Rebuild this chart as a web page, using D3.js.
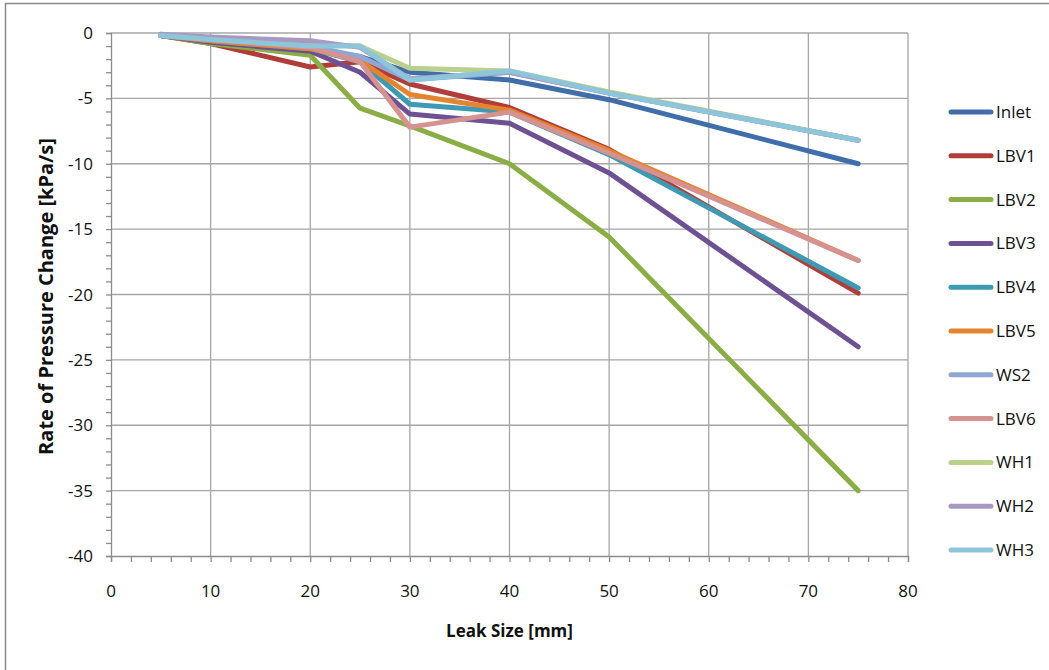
<!DOCTYPE html>
<html>
<head>
<meta charset="utf-8">
<script src="https://cdn.jsdelivr.net/npm/d3@7"></script>
<style>
  html, body { margin: 0; padding: 0; background: #fff; }
  svg { display: block; }
  text { font-family: "Open Sans", "Noto Sans", sans-serif; fill: #111; }
</style>
</head>
<body>
<svg id="chart" width="1049" height="670"></svg>
<script>
// Leak sizes (mm) at which the rate of pressure change was evaluated
const leakSizes = [5, 10, 20, 25, 30, 40, 50, 75];

// Rate of pressure change (kPa/s) for each monitoring location
const inlet = [-0.2, -0.6, -1.2, -1.8, -3.0, -3.6, -5.1, -10.0];
const lbv1  = [-0.2, -0.8, -2.6, -2.2, -3.9, -5.7, -8.9, -19.9];
const lbv2  = [-0.2, -0.8, -1.7, -5.75, -7.1, -10.0, -15.6, -35.0];
const lbv3  = [-0.2, -0.7, -1.4, -3.0, -6.2, -6.9, -10.7, -24.0];
const lbv4  = [-0.2, -0.6, -1.2, -2.2, -5.45, -6.05, -9.3, -19.5];
const lbv5  = [-0.2, -0.6, -1.2, -2.1, -4.7, -5.9, -9.0, -17.4];
const ws2   = [-0.2, -0.5, -1.0, -1.8, -3.6, -3.0, -4.6, -8.2];
const lbv6  = [-0.2, -0.5, -1.1, -2.2, -7.2, -6.05, -9.2, -17.4];
const wh1   = [-0.1, -0.4, -0.9, -1.0, -2.7, -2.9, -4.5, -8.2];
const wh2   = [-0.1, -0.3, -0.6, -1.1, -3.5, -3.0, -4.6, -8.2];
const wh3   = [-0.2, -0.5, -1.0, -1.0, -3.6, -2.9, -4.6, -8.2];

const seriesNames  = ["Inlet", "LBV1", "LBV2", "LBV3", "LBV4", "LBV5", "WS2", "LBV6", "WH1", "WH2", "WH3"];
const seriesValues = [inlet, lbv1, lbv2, lbv3, lbv4, lbv5, ws2, lbv6, wh1, wh2, wh3];
const seriesColors = ["#3F6EAB", "#B03D3A", "#8AAE45", "#6E5193", "#3D9AB2", "#E5832F",
                      "#8FA8D2", "#D69290", "#B9D08E", "#A899C3", "#8DC6DA"];

const xTicks = [0, 10, 20, 30, 40, 50, 60, 70, 80];
const yTicks = [0, -5, -10, -15, -20, -25, -30, -35, -40];

const svg = d3.select("#chart");
const plot = { left: 111, right: 908, top: 33, bottom: 556 };

const x = d3.scaleLinear().domain([0, 80]).range([plot.left, plot.right]);
const y = d3.scaleLinear().domain([-40, 0]).range([plot.bottom, plot.top]);

// outer frame
svg.append("rect")
  .attr("x", 5.5).attr("y", 3.5).attr("width", 1100).attr("height", 700)
  .attr("fill", "none").attr("stroke", "#8a8a8a").attr("stroke-width", 1.5);

// gridlines
const grid = svg.append("g").attr("stroke", "#a6a6a6").attr("stroke-width", 1.3);
grid.selectAll(".gx").data(xTicks.slice(1)).join("line")
  .attr("x1", d => x(d)).attr("x2", d => x(d))
  .attr("y1", plot.top).attr("y2", plot.bottom);
grid.selectAll(".gy").data(yTicks.slice(0, -1)).join("line")
  .attr("x1", plot.left).attr("x2", plot.right)
  .attr("y1", d => y(d)).attr("y2", d => y(d));

// axes with minor ticks
const xAxis = svg.append("g").attr("transform", `translate(0,${plot.bottom})`)
  .call(d3.axisBottom(x).tickValues(d3.range(0, 81, 2)).tickSize(6).tickFormat(""));
const yAxis = svg.append("g").attr("transform", `translate(${plot.left},0)`)
  .call(d3.axisLeft(y).tickValues(d3.range(-40, 1, 1)).tickSize(5).tickFormat(""));
[xAxis, yAxis].forEach(a => {
  a.selectAll("path, line").attr("stroke", "#8c8c8c").attr("stroke-width", 1.3);
});

// tick labels
svg.append("g").selectAll("text").data(xTicks).join("text")
  .attr("x", d => x(d)).attr("y", 597)
  .attr("text-anchor", "middle").attr("font-size", 17)
  .text(d => d);
svg.append("g").selectAll("text").data(yTicks).join("text")
  .attr("x", 93).attr("y", d => y(d) + 6)
  .attr("text-anchor", "end").attr("font-size", 17)
  .text(d => d);

// axis titles
svg.append("text")
  .attr("x", x(40)).attr("y", 637)
  .attr("text-anchor", "middle").attr("font-size", 17).attr("font-weight", "bold")
  .text("Leak Size [mm]");
svg.append("text")
  .attr("transform", `translate(53,${(plot.top + plot.bottom) / 2 + 2}) rotate(-90)`)
  .attr("text-anchor", "middle").attr("font-size", 20).attr("font-weight", "bold")
  .text("Rate of Pressure Change [kPa/s]");

// series lines
const line = d3.line().x((d, i) => x(leakSizes[i])).y(d => y(d));
svg.append("g").selectAll("path").data(seriesValues).join("path")
  .attr("d", d => line(d))
  .attr("fill", "none")
  .attr("stroke", (d, i) => seriesColors[i])
  .attr("stroke-width", 5)
  .attr("stroke-linejoin", "round")
  .attr("stroke-linecap", "round");

// legend
const legend = svg.append("g").selectAll("g").data(seriesNames).join("g")
  .attr("transform", (d, i) => `translate(0,${112 + i * 43.8})`);
legend.append("line")
  .attr("x1", 951).attr("x2", 991).attr("y1", 0).attr("y2", 0)
  .attr("stroke", (d, i) => seriesColors[i]).attr("stroke-width", 5)
  .attr("stroke-linecap", "round");
legend.append("text")
  .attr("x", 996).attr("y", 6).attr("font-size", 17)
  .text(d => d);
</script>
</body>
</html>
